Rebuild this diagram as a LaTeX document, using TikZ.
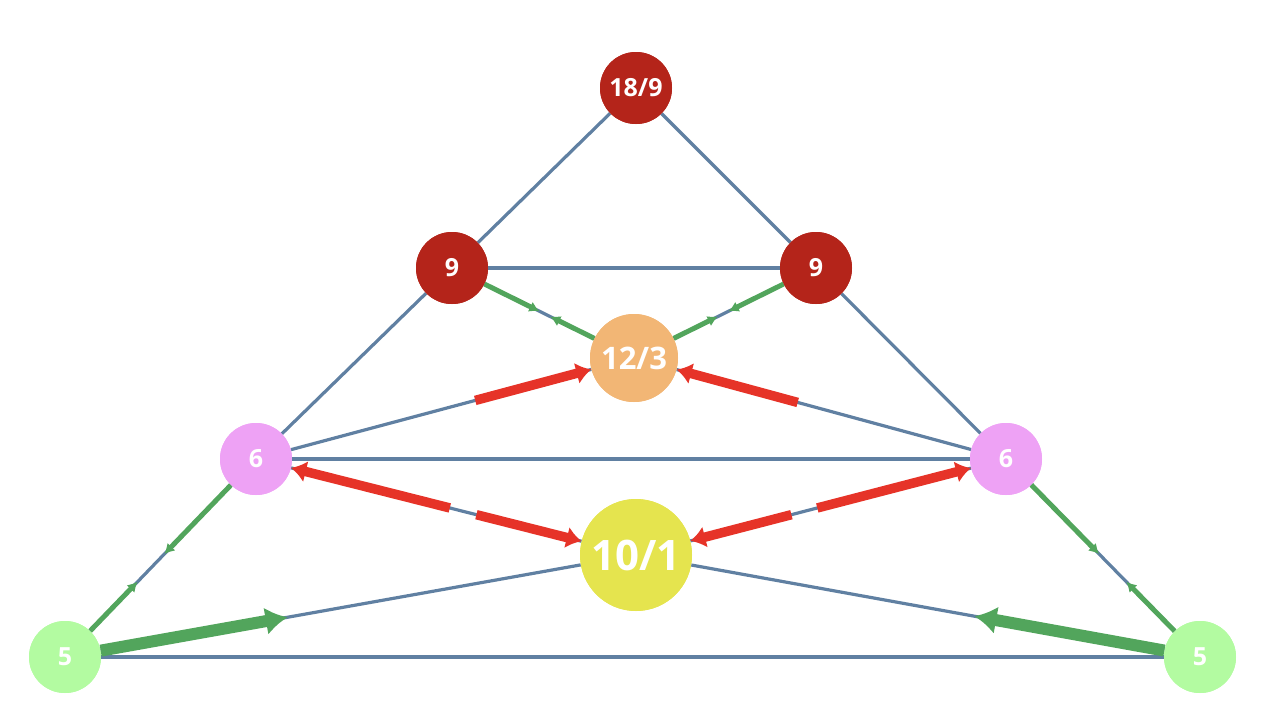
\documentclass[tikz,border=0pt]{standalone}
\usepackage{fontspec}
\setmainfont{Open Sans}
\usetikzlibrary{arrows.meta,calc}
\definecolor{edgeb}{HTML}{6080A2}
\definecolor{grn}{HTML}{52A55C}
\definecolor{redc}{HTML}{E63328}
\definecolor{dred}{HTML}{B4241A}
\definecolor{orng}{HTML}{F2B675}
\definecolor{pink}{HTML}{EEA2F5}
\definecolor{yel}{HTML}{E5E44E}
\definecolor{lgrn}{HTML}{B3FBA1}
\begin{document}
\begin{tikzpicture}[x=1pt,y=-1pt,
 nd/.style={circle,inner sep=0pt,text=white,font=\bfseries\fontsize{25}{27}\selectfont},
 eb/.style={edgeb,line width=3.2pt},
 gs/.style={grn,line width=5pt,-{Latex[length=10pt,width=11pt]}},
 gt/.style={grn,line width=12pt,-{Latex[length=22pt,width=28pt]}},
 rs/.style={redc,line width=9.5pt,-{Latex[length=15pt,width=22pt]}}]
\useasboundingbox (0,0) rectangle (1270,718);
\node[nd,fill=dred,minimum size=72pt] (t) at (636,88) {};
\node[nd,fill=dred,minimum size=72pt] (a) at (452,268) {};
\node[nd,fill=dred,minimum size=72pt] (b) at (816,268) {};
\node[nd,fill=orng,minimum size=88pt] (c) at (634,358) {};
\node[nd,fill=pink,minimum size=72pt] (p) at (256,459) {};
\node[nd,fill=pink,minimum size=72pt] (q) at (1006,459) {};
\node[nd,fill=yel,minimum size=112pt] (y) at (636,555) {};
\node[nd,fill=lgrn,minimum size=72pt] (l) at (65,657) {};
\node[nd,fill=lgrn,minimum size=72pt] (r) at (1200,657) {};
\foreach \u/\v in {t/a,t/b,a/b,a/p,b/q,p/q,p/c,q/c,p/l,q/r,l/r,l/y,r/y,p/y,q/y,a/c,b/c}
  \draw[eb] (\u) -- (\v);
% green small
\draw[gs] (a) -- ($(a)!0.48!(c)$);
\draw[gs] (c) -- ($(c)!0.46!(a)$);
\draw[gs] (b) -- ($(b)!0.48!(c)$);
\draw[gs] (c) -- ($(c)!0.46!(b)$);
\draw[gs] (l) -- ($(l)!0.38!(p)$);
\draw[gs] (p) -- ($(p)!0.48!(l)$);
\draw[gs] (r) -- ($(r)!0.38!(q)$);
\draw[gs] (q) -- ($(q)!0.48!(r)$);
% green thick
\draw[gt] (l) -- ($(l)!0.39!(y)$);
\draw[gt] (r) -- ($(r)!0.40!(y)$);
% red
\draw[rs] ($(p)!0.58!(c)$) -- (c);
\draw[rs] ($(q)!0.56!(c)$) -- (c);
\draw[rs] ($(p)!0.51!(y)$) -- (p);
\draw[rs] ($(p)!0.58!(y)$) -- (y);
\draw[rs] ($(q)!0.51!(y)$) -- (q);
\draw[rs] ($(q)!0.58!(y)$) -- (y);
% nodes on top
\node[nd,fill=dred,minimum size=72pt] (t2) at (t) {18/9};
\node[nd,fill=dred,minimum size=72pt] (a2) at (a) {9};
\node[nd,fill=dred,minimum size=72pt] (b2) at (b) {9};
\node[nd,fill=orng,minimum size=88pt,font=\bfseries\fontsize{31}{33}\selectfont] (c2) at (c) {12/3};
\node[nd,fill=pink,minimum size=72pt] (p2) at (p) {6};
\node[nd,fill=pink,minimum size=72pt] (q2) at (q) {6};
\node[nd,fill=yel,minimum size=112pt,font=\bfseries\fontsize{42}{44}\selectfont] (y2) at (y) {10/1};
\node[nd,fill=lgrn,minimum size=72pt] (l2) at (l) {5};
\node[nd,fill=lgrn,minimum size=72pt] (r2) at (r) {5};
\end{tikzpicture}
\end{document}
